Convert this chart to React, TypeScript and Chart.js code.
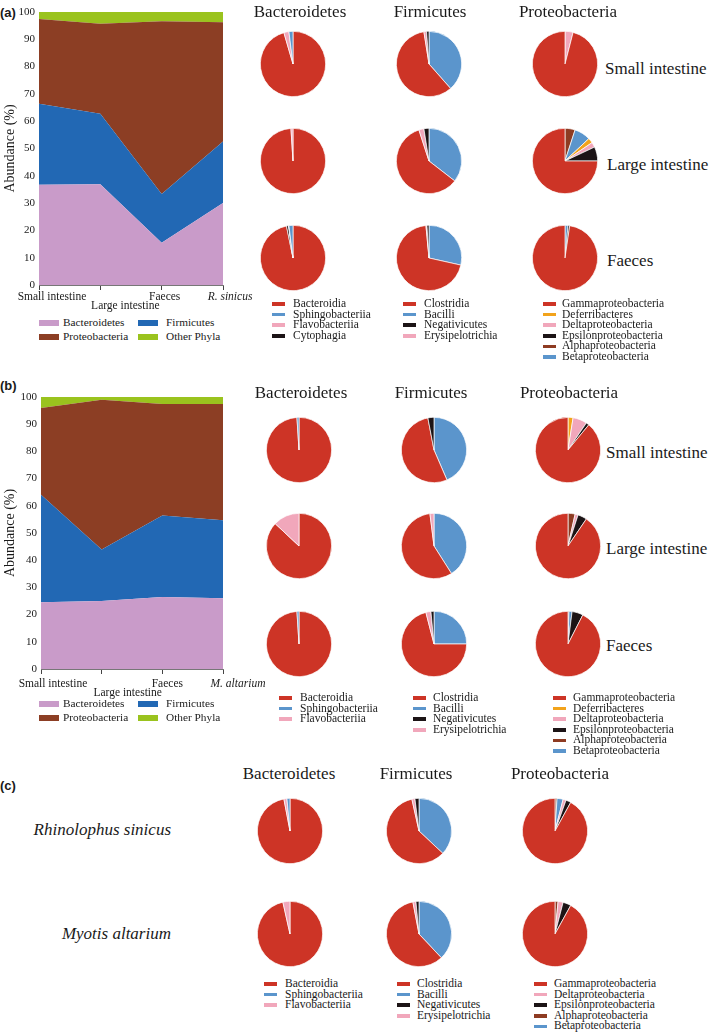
import React, { useEffect, useRef } from "react";
import { Chart, registerables } from "chart.js";

Chart.register(...registerables);

const SERIF = '"Liberation Serif", "Times New Roman", serif';
const SANS = '"Liberation Sans", Arial, sans-serif';
const INK = "#1a1a1a";

// ---------- stacked area data ----------
const phyla = ["Bacteroidetes", "Firmicutes", "Proteobacteria", "Other Phyla"];
const phylaColors = ["#c99bc9", "#2268b4", "#8c3e24", "#9ac31e"];
const rsCategories = ["Small intestine", "Large intestine", "Faeces", "R. sinicus"];
const maCategories = ["Small intestine", "Large intestine", "Faeces", "M. altarium"];

const rsBacteroidetes = [36.7, 36.9, 15.5, 30.0];
const rsFirmicutes = [29.7, 25.8, 17.8, 22.6];
const rsProteobacteria = [31.0, 33.0, 63.3, 43.6];
const rsOtherPhyla = [2.6, 4.3, 3.4, 3.8];

const maBacteroidetes = [24.5, 25.0, 26.5, 26.0];
const maFirmicutes = [39.6, 18.9, 29.9, 28.7];
const maProteobacteria = [31.9, 55.1, 41.0, 42.7];
const maOtherPhyla = [4.0, 1.0, 2.6, 2.6];

// ---------- pie data (values in legend order) ----------
const bacteroidetesClasses = ["Bacteroidia", "Sphingobacteriia", "Flavobacteriia", "Cytophagia"];
const firmicutesClasses = ["Clostridia", "Bacilli", "Negativicutes", "Erysipelotrichia"];
const proteoClasses = [
  "Gammaproteobacteria",
  "Deferribacteres",
  "Deltaproteobacteria",
  "Epsilonproteobacteria",
  "Alphaproteobacteria",
  "Betaproteobacteria",
];
const bacteroidetesClassesC = ["Bacteroidia", "Sphingobacteriia", "Flavobacteriia"];
const proteoClassesC = [
  "Gammaproteobacteria",
  "Deltaproteobacteria",
  "Epsilonproteobacteria",
  "Alphaproteobacteria",
  "Betaproteobacteria",
];

const RED = "#cd3426";
const BLUE = "#5b95cc";
const PINK = "#f1a7bb";
const BLACK = "#1c1416";
const ORANGE = "#f2a31b";
const BROWN = "#8e3b22";
const classColors: Record<string, string> = {
  Bacteroidia: RED,
  Sphingobacteriia: BLUE,
  Flavobacteriia: PINK,
  Cytophagia: BLACK,
  Clostridia: RED,
  Bacilli: BLUE,
  Negativicutes: BLACK,
  Erysipelotrichia: PINK,
  Gammaproteobacteria: RED,
  Deferribacteres: ORANGE,
  Deltaproteobacteria: PINK,
  Epsilonproteobacteria: BLACK,
  Alphaproteobacteria: BROWN,
  Betaproteobacteria: BLUE,
};

// (a) R. sinicus
const rsSiBacteroidetes = [95.5, 2, 2.5, 0];
const rsLiBacteroidetes = [99, 0, 1, 0];
const rsFaBacteroidetes = [96.8, 2, 0.2, 1];
const rsSiFirmicutes = [59, 38.5, 1.2, 1.3];
const rsLiFirmicutes = [59.5, 35.5, 2.5, 2.5];
const rsFaFirmicutes = [70, 28.5, 1, 0.5];
const rsSiProteo = [96, 0, 4, 0, 0, 0];
const rsLiProteo = [75, 2.5, 2.5, 7, 5, 8];
const rsFaProteo = [97.7, 0, 0, 0.8, 0, 1.5];

// (b) M. altarium
const maSiBacteroidetes = [99, 1, 0, 0];
const maLiBacteroidetes = [87, 0, 13, 0];
const maFaBacteroidetes = [99, 1, 0, 0];
const maSiFirmicutes = [53.5, 43.5, 3, 0];
const maLiFirmicutes = [57, 41, 0, 2];
const maFaFirmicutes = [71, 25, 1.5, 2.5];
const maSiProteo = [89, 2.5, 7, 1.5, 0, 0];
const maLiProteo = [90.5, 0, 1.5, 4.5, 3.5, 0];
const maFaProteo = [92.5, 0, 0, 5.5, 0.5, 1.5];

// (c) whole gut
const rsTotalBacteroidetes = [97, 1.5, 1.5];
const maTotalBacteroidetes = [96.5, 0, 3.5];
const rsTotalFirmicutes = [59.5, 37, 2, 1.5];
const maTotalFirmicutes = [59, 38, 1.5, 1.5];
const rsTotalProteo = [92, 1.5, 2.5, 1, 3];
const maTotalProteo = [92, 2.5, 4, 1.5, 0];

const columnTitles = ["Bacteroidetes", "Firmicutes", "Proteobacteria"];
const siteTitles = ["Small intestine", "Large intestine", "Faeces"];
const speciesTitles = ["Rhinolophus sinicus", "Myotis altarium"];

// ---------- layout ----------
const PIE_SIZE = 66;
const pieColsA = [293, 429, 565];
const pieRowsA = [64, 161, 258];
const pieColsB = [299, 434, 568];
const pieRowsB = [450, 546, 644];
const pieColsC = [290, 419, 555];
const pieRowsC = [831, 934];

// ---------- components ----------
function ChartCanvas(props: { left: number; top: number; width: number; height: number; make: () => any }) {
  const ref = useRef<HTMLCanvasElement | null>(null);
  useEffect(() => {
    if (!ref.current) return;
    const chart = new Chart(ref.current, props.make());
    return () => chart.destroy();
  }, []);
  return (
    <canvas
      ref={ref}
      width={props.width}
      height={props.height}
      style={{ position: "absolute", left: props.left, top: props.top, width: props.width, height: props.height }}
    />
  );
}

const xLabelPlugin = {
  id: "xlabels",
  afterDraw(chart: any, _args: any, o: any) {
    const { ctx, chartArea } = chart;
    const xs = chart.scales.x;
    const labels: string[] = chart.data.labels;
    ctx.save();
    ctx.fillStyle = INK;
    ctx.textAlign = "center";
    ctx.textBaseline = "middle";
    labels.forEach((lab, i) => {
      ctx.font = (i === labels.length - 1 ? "italic " : "") + "11.5px " + SERIF;
      ctx.fillText(lab, xs.getPixelForValue(i) + o.dx[i], chartArea.bottom + o.dy[i]);
    });
    ctx.restore();
  },
};

function areaConfig(
  categories: string[],
  series: number[][],
  pad: { top: number; right: number; bottom: number },
  yWidth: number,
  dx: number[],
  dy: number[]
) {
  return {
    type: "line",
    data: {
      labels: categories,
      datasets: series.map((s, i) => ({
        label: phyla[i],
        data: s,
        backgroundColor: phylaColors[i],
        borderWidth: 0,
        pointRadius: 0,
        tension: 0,
        fill: i === 0 ? "origin" : "-1",
      })),
    },
    plugins: [xLabelPlugin],
    options: {
      responsive: false,
      animation: false,
      layout: { padding: { left: 0, top: pad.top, right: pad.right, bottom: pad.bottom } },
      plugins: {
        legend: { display: false },
        tooltip: { enabled: false },
        xlabels: { dx, dy },
      },
      scales: {
        x: {
          type: "category",
          offset: false,
          ticks: { display: false },
          grid: { display: true, drawOnChartArea: false, drawTicks: true, tickLength: 5, color: "#444", lineWidth: 1 },
          border: { display: true, color: "#777", width: 1 },
          afterFit: (s: any) => {
            s.height = 5;
          },
        },
        y: {
          stacked: true,
          min: 0,
          max: 100,
          ticks: { stepSize: 10, color: INK, font: { family: SERIF, size: 11 }, padding: 4 },
          grid: { display: false, drawTicks: false, tickLength: 0 },
          border: { display: false },
          title: {
            display: true,
            text: "Abundance (%)",
            color: INK,
            font: { family: SERIF, size: 14 },
            padding: { top: 2, bottom: 0 },
          },
          afterFit: (s: any) => {
            s.width = yWidth;
          },
        },
      },
    },
  };
}

function pieConfig(classes: string[], values: number[]) {
  const order = classes
    .map((c, i) => i)
    .filter((i) => values[i] > 0)
    .sort((a, b) => (classes[a] < classes[b] ? -1 : 1));
  return {
    type: "pie",
    data: {
      labels: order.map((i) => classes[i]),
      datasets: [
        {
          data: order.map((i) => values[i]),
          backgroundColor: order.map((i) => classColors[classes[i]]),
          borderColor: "#ffffff",
          borderWidth: 0.7,
        },
      ],
    },
    options: {
      responsive: false,
      animation: false,
      layout: { padding: 0 },
      plugins: { legend: { display: false }, tooltip: { enabled: false } },
    },
  };
}

function Pie(props: { cx: number; cy: number; classes: string[]; values: number[] }) {
  return (
    <ChartCanvas
      left={props.cx - PIE_SIZE / 2}
      top={props.cy - PIE_SIZE / 2}
      width={PIE_SIZE}
      height={PIE_SIZE}
      make={() => pieConfig(props.classes, props.values)}
    />
  );
}

function Txt(props: {
  x: number;
  y: number;
  text: string;
  size?: number;
  align?: "left" | "center" | "right";
  italic?: boolean;
  bold?: boolean;
  family?: string;
}) {
  const align = props.align || "center";
  const style: React.CSSProperties = {
    position: "absolute",
    top: props.y,
    whiteSpace: "nowrap",
    fontFamily: props.family || SERIF,
    fontSize: props.size || 17,
    fontStyle: props.italic ? "italic" : "normal",
    fontWeight: props.bold ? "bold" : "normal",
    lineHeight: "1",
    color: INK,
  };
  if (align === "center") {
    style.left = props.x;
    style.transform = "translate(-50%, -50%)";
  } else if (align === "left") {
    style.left = props.x;
    style.transform = "translateY(-50%)";
  } else {
    style.right = 709 - props.x;
    style.transform = "translateY(-50%)";
  }
  return <div style={style}>{props.text}</div>;
}

function LineLegend(props: { sx: number; tx: number; y: number; items: string[] }) {
  return (
    <>
      {props.items.map((name, i) => (
        <React.Fragment key={name}>
          <div
            style={{
              position: "absolute",
              left: props.sx,
              top: props.y + i * 10.6 - 1.75,
              width: 13,
              height: 3.5,
              background: classColors[name],
            }}
          />
          <Txt x={props.tx} y={props.y + i * 10.6} text={name} size={11.5} align="left" />
        </React.Fragment>
      ))}
    </>
  );
}

function PhylaLegend(props: { y: number }) {
  const cols = [
    [39, 63],
    [138, 166],
  ];
  return (
    <>
      {phyla.map((name, i) => {
        const c = cols[i % 2];
        const y = props.y + Math.floor(i / 2) * 14;
        return (
          <React.Fragment key={name}>
            <div
              style={{ position: "absolute", left: c[0], top: y - 3, width: 20, height: 6, background: phylaColors[i] }}
            />
            <Txt x={c[1]} y={y} text={name} size={11.3} align="left" />
          </React.Fragment>
        );
      })}
    </>
  );
}

export default function App() {
  const rowA = [
    [rsSiBacteroidetes, rsSiFirmicutes, rsSiProteo],
    [rsLiBacteroidetes, rsLiFirmicutes, rsLiProteo],
    [rsFaBacteroidetes, rsFaFirmicutes, rsFaProteo],
  ];
  const rowB = [
    [maSiBacteroidetes, maSiFirmicutes, maSiProteo],
    [maLiBacteroidetes, maLiFirmicutes, maLiProteo],
    [maFaBacteroidetes, maFaFirmicutes, maFaProteo],
  ];
  const rowC = [
    [rsTotalBacteroidetes, rsTotalFirmicutes, rsTotalProteo],
    [maTotalBacteroidetes, maTotalFirmicutes, maTotalProteo],
  ];
  const classesAB = [bacteroidetesClasses, firmicutesClasses, proteoClasses];
  const classesC = [bacteroidetesClassesC, firmicutesClasses, proteoClassesC];

  return (
    <div
      style={{
        position: "absolute",
        left: 0,
        top: 0,
        width: 709,
        height: 1033,
        background: "#ffffff",
        overflow: "hidden",
      }}
    >
      {/* panel (a) */}
      <Txt x={0} y={12} text="(a)" size={13} bold family={SANS} align="left" />
      <ChartCanvas
        left={0}
        top={0}
        width={275}
        height={312}
        make={() =>
          areaConfig(
            rsCategories,
            [rsBacteroidetes, rsFirmicutes, rsProteobacteria, rsOtherPhyla],
            { top: 12, right: 52, bottom: 22 },
            39,
            [13, 25, 3, 7],
            [12, 21, 12, 12]
          )
        }
      />
      <PhylaLegend y={323} />
      {columnTitles.map((t, i) => (
        <Txt key={"ha" + i} x={[300, 430, 568][i]} y={11} text={t} />
      ))}
      {siteTitles.map((t, i) => (
        <Txt key={"sa" + i} x={[605, 607, 607][i]} y={[68, 164, 260][i]} text={t} align="left" />
      ))}
      {rowA.map((row, r) =>
        row.map((vals, c) => (
          <Pie key={"pa" + r + c} cx={pieColsA[c]} cy={pieRowsA[r]} classes={classesAB[c]} values={vals} />
        ))
      )}
      <LineLegend sx={272} tx={293} y={304} items={bacteroidetesClasses} />
      <LineLegend sx={403} tx={424} y={304} items={firmicutesClasses} />
      <LineLegend sx={543} tx={562} y={304} items={proteoClasses} />

      {/* panel (b) */}
      <Txt x={0} y={385} text="(b)" size={13} bold family={SANS} align="left" />
      <ChartCanvas
        left={0}
        top={380}
        width={275}
        height={330}
        make={() =>
          areaConfig(
            maCategories,
            [maBacteroidetes, maFirmicutes, maProteobacteria, maOtherPhyla],
            { top: 17, right: 52, bottom: 36 },
            41,
            [12, 26, 5, 15],
            [15, 24, 15, 15]
          )
        }
      />
      <PhylaLegend y={704} />
      {columnTitles.map((t, i) => (
        <Txt key={"hb" + i} x={[301, 431, 569][i]} y={392} text={t} />
      ))}
      {siteTitles.map((t, i) => (
        <Txt key={"sb" + i} x={606} y={[452, 548, 645][i]} text={t} align="left" />
      ))}
      {rowB.map((row, r) =>
        row.map((vals, c) => (
          <Pie key={"pb" + r + c} cx={pieColsB[c]} cy={pieRowsB[r]} classes={classesAB[c]} values={vals} />
        ))
      )}
      <LineLegend sx={279} tx={300} y={698} items={bacteroidetesClasses.slice(0, 3)} />
      <LineLegend sx={413} tx={433} y={698} items={firmicutesClasses} />
      <LineLegend sx={553} tx={573} y={698} items={proteoClasses} />

      {/* panel (c) */}
      <Txt x={0} y={785} text="(c)" size={13} bold family={SANS} align="left" />
      {columnTitles.map((t, i) => (
        <Txt key={"hc" + i} x={[289, 416, 560][i]} y={773} text={t} />
      ))}
      {speciesTitles.map((t, i) => (
        <Txt key={"sc" + i} x={171} y={[829, 933][i]} text={t} italic align="right" />
      ))}
      {rowC.map((row, r) =>
        row.map((vals, c) => (
          <Pie key={"pc" + r + c} cx={pieColsC[c]} cy={pieRowsC[r]} classes={classesC[c]} values={vals} />
        ))
      )}
      <LineLegend sx={264} tx={285} y={984} items={bacteroidetesClassesC} />
      <LineLegend sx={397} tx={417} y={984} items={firmicutesClasses} />
      <LineLegend sx={534} tx={554} y={984} items={proteoClassesC} />
    </div>
  );
}
